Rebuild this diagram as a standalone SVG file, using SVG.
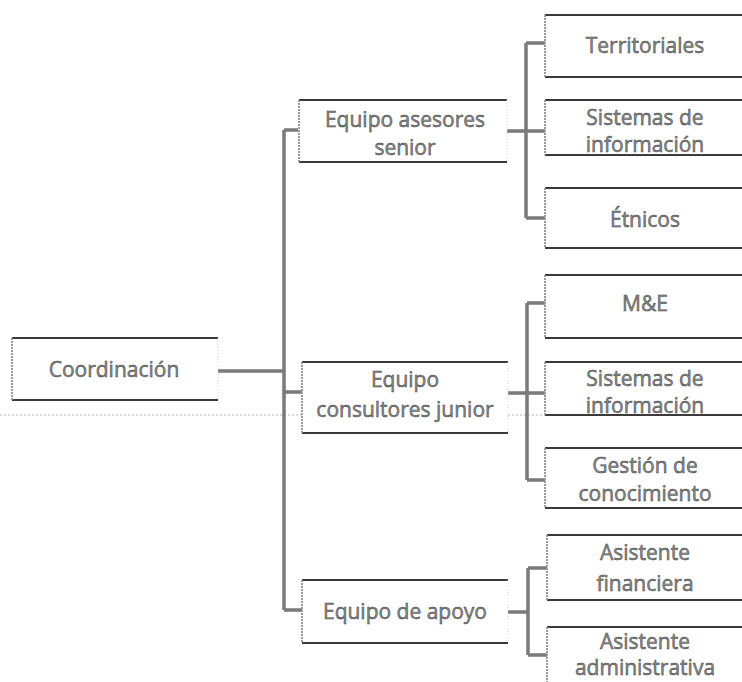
<svg xmlns="http://www.w3.org/2000/svg" width="742" height="682" viewBox="0 0 742 682">
<style>
.bx{fill:#fff;stroke:none}
.tb{stroke:#3a3a3a;stroke-width:2.2;fill:none}
.sd{stroke:#9a9a9a;stroke-width:2;stroke-dasharray:2 1;fill:none}
.rs{stroke:#d8d8d8;stroke-width:1;stroke-dasharray:1 2;fill:none}
.t{font-family:"Open Sans",Lato,sans-serif;font-size:21px;fill:#8a8a8a;stroke:#3a3a3a;stroke-width:0.45;text-anchor:middle}
.c{stroke:#7a7a7a;stroke-width:3.5;fill:none;stroke-linejoin:miter}
</style>
<rect width="742" height="682" fill="#fff"/>
<line x1="0" y1="415" x2="742" y2="415" stroke="#b5b5b5" stroke-width="1" stroke-dasharray="2 2"/>
<g id="connectors">
<path class="c" d="M218 371H284M284 130V610M284 130H298M284 392H302M284 610H302"/>
<path class="c" d="M507 131H545M526 43V218M526 43H545M526 218H545"/>
<path class="c" d="M508 393H545M527 303V480M527 303H545M527 480H545"/>
<path class="c" d="M508 612H528M528 568V655M528 568H547M528 655H547"/>
</g>
<g id="coordinacion">
<rect class="bx" x="12" y="338" width="206" height="62"/>
<path class="tb" d="M12 338H218M12 400H218"/><path class="sd" d="M12 338V400"/><path class="rs" d="M218 338V400"/>
<text class="t" x="114" y="377">Coordinación</text>
</g>
<g id="asesores">
<rect class="bx" x="299" y="100" width="208" height="62"/>
<path class="tb" d="M299 100H507M299 162H507"/><path class="sd" d="M299 100V162"/><path class="rs" d="M507 100V162"/>
<text class="t" x="405" y="127">Equipo asesores</text>
<text class="t" x="405" y="155">senior</text>
</g>
<g id="consultores">
<rect class="bx" x="302" y="362" width="206" height="71"/>
<path class="tb" d="M302 362H508M302 433H508"/><path class="sd" d="M302 362V433"/><path class="rs" d="M508 362V433"/>
<text class="t" x="405" y="387">Equipo</text>
<text class="t" x="405" y="417">consultores junior</text>
</g>
<g id="apoyo">
<rect class="bx" x="302" y="580" width="206" height="63"/>
<path class="tb" d="M302 580H508M302 643H508"/><path class="sd" d="M302 580V643"/><path class="rs" d="M508 580V643"/>
<text class="t" x="405" y="619">Equipo de apoyo</text>
</g>
<g id="territoriales">
<rect class="bx" x="545" y="15" width="196" height="62"/>
<path class="tb" d="M545 15H742M545 77H742"/><path class="sd" d="M545 15V77"/>
<text class="t" x="645" y="53">Territoriales</text>
</g>
<g id="sistemas1">
<rect class="bx" x="545" y="100" width="196" height="55"/>
<path class="tb" d="M545 100H742M545 155H742"/><path class="sd" d="M545 100V155"/>
<text class="t" x="645" y="125">Sistemas de</text>
<text class="t" x="645" y="152">información</text>
</g>
<g id="etnicos">
<rect class="bx" x="545" y="188" width="196" height="60"/>
<path class="tb" d="M545 188H742M545 248H742"/><path class="sd" d="M545 188V248"/>
<text class="t" x="645" y="227">Étnicos</text>
</g>
<g id="mye">
<rect class="bx" x="545" y="275" width="196" height="63"/>
<path class="tb" d="M545 275H742M545 338H742"/><path class="sd" d="M545 275V338"/>
<text class="t" x="645" y="311">M&amp;E</text>
</g>
<g id="sistemas2">
<rect class="bx" x="545" y="362" width="196" height="53"/>
<path class="tb" d="M545 362H742M545 415H742"/><path class="sd" d="M545 362V415"/>
<text class="t" x="645" y="386">Sistemas de</text>
<text class="t" x="645" y="413">información</text>
</g>
<g id="gestion">
<rect class="bx" x="545" y="448" width="196" height="60"/>
<path class="tb" d="M545 448H742M545 508H742"/><path class="sd" d="M545 448V508"/>
<text class="t" x="645" y="473">Gestión de</text>
<text class="t" x="645" y="501">conocimiento</text>
</g>
<g id="financiera">
<rect class="bx" x="547" y="535" width="195" height="65"/>
<path class="tb" d="M547 535H742M547 600H742"/><path class="sd" d="M547 535V600"/>
<text class="t" x="645" y="560">Asistente</text>
<text class="t" x="645" y="591">financiera</text>
</g>
<g id="administrativa">
<rect class="bx" x="547" y="627" width="195" height="55"/>
<path class="tb" d="M547 627H742"/><path class="sd" d="M547 627V682"/>
<text class="t" x="645" y="649">Asistente</text>
<text class="t" x="645" y="675">administrativa</text>
</g>
</svg>
